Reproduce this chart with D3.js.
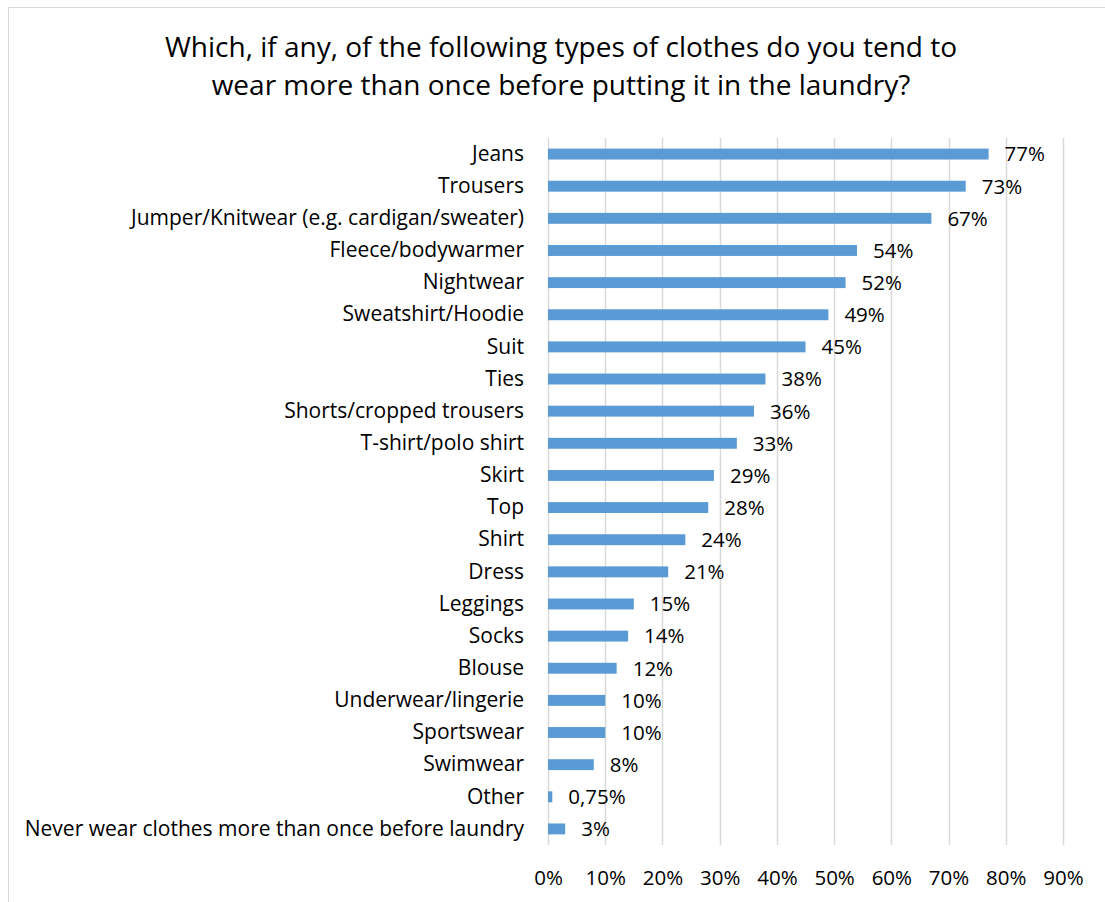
<!DOCTYPE html>
<html>
<head>
<meta charset="utf-8">
<script src="https://cdn.jsdelivr.net/npm/d3@7"></script>
<style>
  html, body { margin: 0; padding: 0; background: #fff; }
  svg { display: block; font-family: "Open Sans", sans-serif; }
</style>
</head>
<body>
<svg id="chart" width="1105" height="902"></svg>
<script>
// Survey answers, top to bottom
const categories = [
  "Jeans", "Trousers", "Jumper/Knitwear (e.g. cardigan/sweater)", "Fleece/bodywarmer",
  "Nightwear", "Sweatshirt/Hoodie", "Suit", "Ties", "Shorts/cropped trousers",
  "T-shirt/polo shirt", "Skirt", "Top", "Shirt", "Dress", "Leggings", "Socks",
  "Blouse", "Underwear/lingerie", "Sportswear", "Swimwear", "Other",
  "Never wear clothes more than once before laundry"
];
const values = [77, 73, 67, 54, 52, 49, 45, 38, 36, 33, 29, 28, 24, 21, 15, 14, 12, 10, 10, 8, 0.75, 3];
const valueLabels = ["77%", "73%", "67%", "54%", "52%", "49%", "45%", "38%", "36%", "33%", "29%", "28%", "24%", "21%", "15%", "14%", "12%", "10%", "10%", "8%", "0,75%", "3%"];
const ticks = [0, 10, 20, 30, 40, 50, 60, 70, 80, 90];
const titleLines = [
  "Which, if any, of the following types of clothes do you tend to",
  "wear more than once before putting it in the laundry?"
];

const svg = d3.select("#chart");

// Chart frame
svg.append("rect")
  .attr("x", 8.5).attr("y", 7.5)
  .attr("width", 1120).attr("height", 920)
  .attr("fill", "none").attr("stroke", "#d9d9d9").attr("stroke-width", 1);

const plot = { left: 548, right: 1063, top: 138, bottom: 845 };

const x = d3.scaleLinear().domain([0, 90]).range([plot.left, plot.right]);
const y = d3.scaleBand().domain(categories).range([plot.top, plot.bottom])
  .paddingInner(0.66).paddingOuter(0.33);

// Title
svg.append("g").selectAll("text")
  .data(titleLines)
  .join("text")
  .attr("x", 561)
  .attr("y", (d, i) => 57 + i * 38)
  .attr("text-anchor", "middle")
  .attr("font-size", 28)
  .attr("fill", "#000")
  .text(d => d);

// Vertical gridlines
svg.append("g").selectAll("line")
  .data(ticks)
  .join("line")
  .attr("x1", d => Math.round(x(d)) + 0.5)
  .attr("x2", d => Math.round(x(d)) + 0.5)
  .attr("y1", plot.top).attr("y2", plot.bottom)
  .attr("stroke", "#d9d9d9").attr("stroke-width", 1.5);

// X axis labels
const xAxis = d3.axisBottom(x).tickValues(ticks).tickSize(0).tickPadding(0)
  .tickFormat(d => d + "%");
const gx = svg.append("g")
  .attr("transform", `translate(0,${plot.bottom + 25})`)
  .call(xAxis);
gx.select(".domain").remove();
gx.selectAll("text")
  .attr("font-family", "Open Sans, sans-serif")
  .attr("font-size", 20.5)
  .attr("fill", "#000");

// Category labels
const yAxis = d3.axisLeft(y).tickSize(0).tickPadding(0);
const gy = svg.append("g")
  .attr("transform", `translate(${plot.left - 24},0)`)
  .call(yAxis);
gy.select(".domain").remove();
gy.selectAll("text")
  .attr("font-family", "Open Sans, sans-serif")
  .attr("font-size", 21)
  .attr("fill", "#000");

// Bars
svg.append("g").selectAll("rect")
  .data(values)
  .join("rect")
  .attr("x", plot.left)
  .attr("y", (d, i) => y(categories[i]))
  .attr("width", d => x(d) - x(0))
  .attr("height", y.bandwidth())
  .attr("fill", "#5b9bd5");

// Value labels
svg.append("g").selectAll("text")
  .data(values)
  .join("text")
  .attr("x", d => x(d) + 16)
  .attr("y", (d, i) => y(categories[i]) + y.bandwidth() / 2)
  .attr("dy", "0.36em")
  .attr("font-size", 20.5)
  .attr("fill", "#000")
  .text((d, i) => valueLabels[i]);
</script>
</body>
</html>
